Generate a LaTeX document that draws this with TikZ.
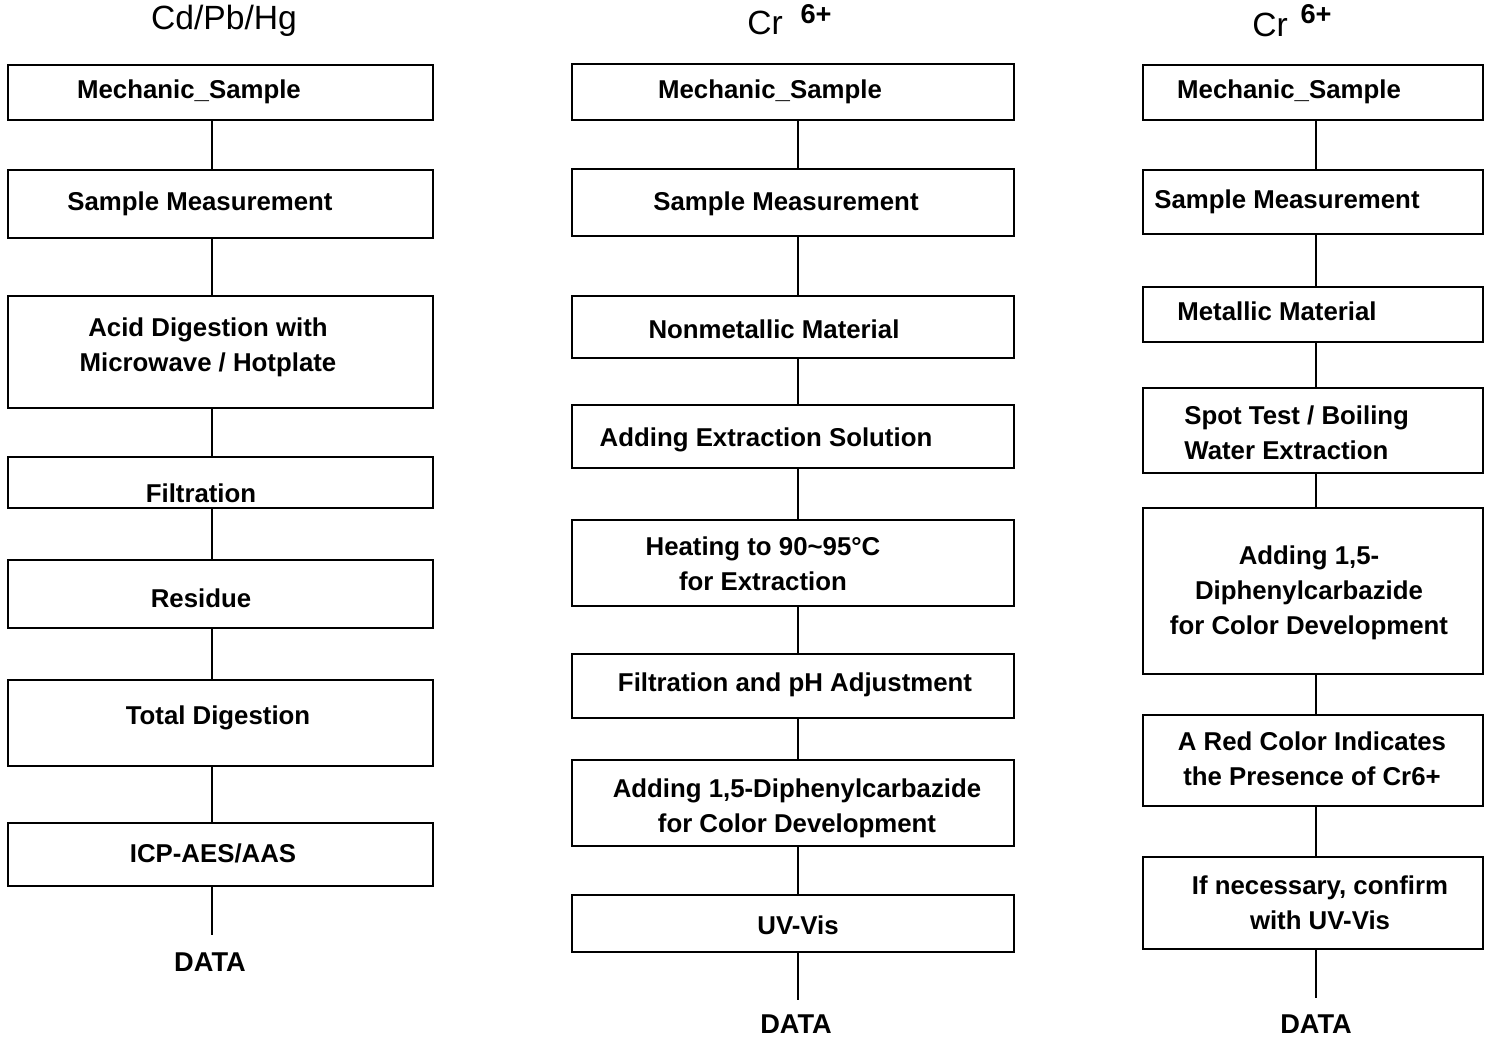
\documentclass[tikz,border=0pt]{standalone}
\usepackage{fontspec}
\setmainfont{Liberation Sans}
\begin{document}
\begin{tikzpicture}[x=0.5pt,y=-0.5pt,
  box/.style={draw=black,line width=1pt,inner sep=0pt,outer sep=0pt},
  txt/.style={inner sep=0pt,font=\fontsize{12.9}{17.5}\selectfont\bfseries,align=center,yshift=-1pt},
  ltxt/.style={inner sep=0pt,font=\fontsize{12.9}{17.5}\selectfont\bfseries,align=left,yshift=-1pt},
  dtxt/.style={inner sep=0pt,font=\fontsize{13.6}{17.5}\selectfont\bfseries},
  ttl/.style={inner sep=0pt,font=\fontsize{16.8}{19}\selectfont},
  sup/.style={inner sep=0pt,font=\fontsize{13.6}{15}\selectfont\bfseries},
  conn/.style={line width=1pt}]
\useasboundingbox (0,0) rectangle (1489,1038);
\newcommand\mybox[5]{\node[box,minimum width={(#4-#2)*0.5pt},minimum height={(#5-#3)*0.5pt}] (#1) at ({(#2+#4)/2},{(#3+#5)/2}) {};}
% guide coordinates for connector lines
\coordinate (L1) at (212,0);
\coordinate (L2) at (798,0);
\coordinate (L3) at (1316,0);
% ---------- column 1 ----------
\node[ttl] (t1) at (224,21) {Cd/Pb/Hg};
\mybox{a1}{8}{65}{433}{120}
\mybox{a2}{8}{170}{433}{238}
\mybox{a3}{8}{296}{433}{408}
\mybox{a4}{8}{457}{433}{508}
\mybox{a5}{8}{560}{433}{628}
\mybox{a6}{8}{680}{433}{766}
\mybox{a7}{8}{823}{433}{886}
\node[txt] at (189,90) {Mechanic\_Sample};
\node[txt] at (200,202) {Sample Measurement};
\node[txt] at (208,345) {Acid Digestion with\\Microwave / Hotplate};
\node[txt] at (201,491) {Filtration};
\node[txt] at (201,596) {Residue};
\node[txt] at (218,716) {Total Digestion};
\node[txt] at (213,851) {ICP-AES/AAS};
\node[dtxt] (d1) at (210,962) {DATA};
\draw[conn] (a1.south -| L1) -- (a2.north -| L1);
\draw[conn] (a2.south -| L1) -- (a3.north -| L1);
\draw[conn] (a3.south -| L1) -- (a4.north -| L1);
\draw[conn] (a4.south -| L1) -- (a5.north -| L1);
\draw[conn] (a5.south -| L1) -- (a6.north -| L1);
\draw[conn] (a6.south -| L1) -- (a7.north -| L1);
\coordinate (e1) at (212,935);
\draw[conn] (a7.south -| L1) -- (e1);
% ---------- column 2 ----------
\node[ttl] (t2) at (765,23) {Cr};
\node[sup] (s2) at (816,14) {6+};
\mybox{b1}{572}{64}{1014}{120}
\mybox{b2}{572}{169}{1014}{236}
\mybox{b3}{572}{296}{1014}{358}
\mybox{b4}{572}{405}{1014}{468}
\mybox{b5}{572}{520}{1014}{606}
\mybox{b6}{572}{654}{1014}{718}
\mybox{b7}{572}{760}{1014}{846}
\mybox{b8}{572}{895}{1014}{952}
\node[txt] at (770,90) {Mechanic\_Sample};
\node[txt] at (786,202) {Sample Measurement};
\node[txt] at (774,327) {Nonmetallic Material};
\node[txt] at (766,438) {Adding Extraction Solution};
\node[txt] at (763,562) {Heating to 90\textasciitilde95°C\\for Extraction};
\node[txt] at (795,683) {Filtration and pH Adjustment};
\node[txt] at (797,806) {Adding 1,5-Diphenylcarbazide\\for Color Development};
\node[txt] at (798,923) {UV-Vis};
\node[dtxt] (d2) at (796,1024) {DATA};
\draw[conn] (b1.south -| L2) -- (b2.north -| L2);
\draw[conn] (b2.south -| L2) -- (b3.north -| L2);
\draw[conn] (b3.south -| L2) -- (b4.north -| L2);
\draw[conn] (b4.south -| L2) -- (b5.north -| L2);
\draw[conn] (b5.south -| L2) -- (b6.north -| L2);
\draw[conn] (b6.south -| L2) -- (b7.north -| L2);
\draw[conn] (b7.south -| L2) -- (b8.north -| L2);
\coordinate (e2) at (798,1000);
\draw[conn] (b8.south -| L2) -- (e2);
% ---------- column 3 ----------
\node[ttl] (t3) at (1270,25) {Cr};
\node[sup] (s3) at (1316,14) {6+};
\mybox{c1}{1143}{65}{1483}{120}
\mybox{c2}{1143}{170}{1483}{234}
\mybox{c3}{1143}{287}{1483}{342}
\mybox{c4}{1143}{388}{1483}{473}
\mybox{c5}{1143}{508}{1483}{674}
\mybox{c6}{1143}{715}{1483}{806}
\mybox{c7}{1143}{857}{1483}{949}
\node[txt] at (1289,90) {Mechanic\_Sample};
\node[txt] at (1287,200) {Sample Measurement};
\node[txt] at (1277,309) {Metallic Material};
\node[ltxt,anchor=west] at (1184,431) {Spot Test / Boiling\\Water Extraction};
\node[txt] at (1309,591) {Adding 1,5-\\Diphenylcarbazide\\for Color Development};
\node[txt] at (1312,757) {A Red Color Indicates\\the Presence of Cr6+};
\node[txt] at (1320,901) {If necessary, confirm\\with UV-Vis};
\node[dtxt] (d3) at (1316,1024) {DATA};
\draw[conn] (c1.south -| L3) -- (c2.north -| L3);
\draw[conn] (c2.south -| L3) -- (c3.north -| L3);
\draw[conn] (c3.south -| L3) -- (c4.north -| L3);
\draw[conn] (c4.south -| L3) -- (c5.north -| L3);
\draw[conn] (c5.south -| L3) -- (c6.north -| L3);
\draw[conn] (c6.south -| L3) -- (c7.north -| L3);
\coordinate (e3) at (1316,998);
\draw[conn] (c7.south -| L3) -- (e3);
\end{tikzpicture}
\end{document}
